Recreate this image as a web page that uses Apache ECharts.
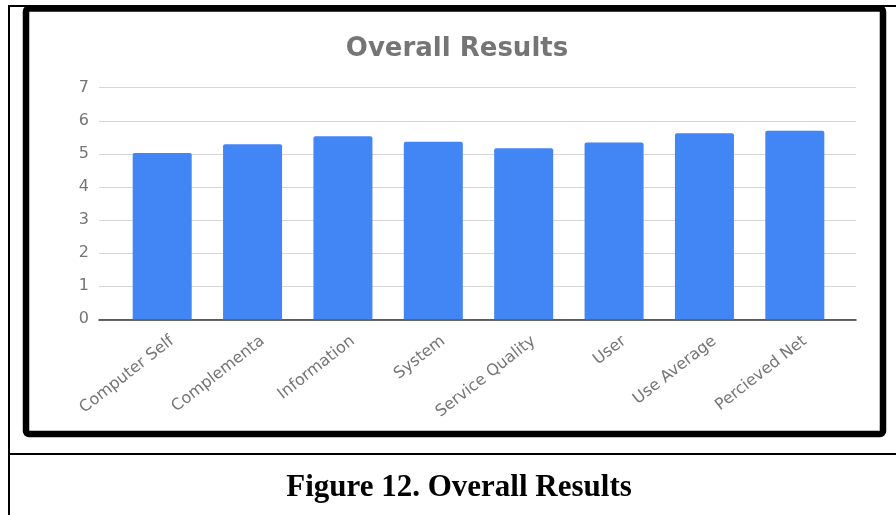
<!DOCTYPE html>
<html>
<head>
<meta charset="utf-8">
<script src="https://cdn.jsdelivr.net/npm/echarts@6/dist/echarts.min.js"></script>
<style>
  html, body { margin: 0; padding: 0; background: #ffffff; }
  #main { width: 896px; height: 515px; }
</style>
</head>
<body>
<div id="main"></div>
<script>
var categories = ['Computer Self', 'Complementa', 'Information', 'System', 'Service Quality', 'User', 'Use Average', 'Percieved Net'];
var scores = [5.03, 5.29, 5.53, 5.37, 5.17, 5.34, 5.62, 5.70];
var yTicks = [0, 7, 1]; // min, max, interval

var chart = echarts.init(document.getElementById('main'), null, { renderer: 'canvas' });

var option = {
  backgroundColor: '#ffffff',
  animation: false,
  title: {
    text: 'Overall Results',
    left: 457,
    top: 36,
    textAlign: 'center',
    padding: 0,
    textStyle: { fontFamily: 'DejaVu Sans', fontWeight: 'bold', fontSize: 26, color: '#757575' }
  },
  grid: [
    // bars
    { left: 117, right: 56, top: 87.7, bottom: 195.7 },
    // grid lines, y labels and baseline (a bit wider than the bars)
    { left: 99, right: 40, top: 87.7, bottom: 195.7 },
    // category labels, sit a little right of the bar centres like the original
    { left: 127, right: 46, top: 87.7, bottom: 195.7 }
  ],
  xAxis: [{
    gridIndex: 0,
    type: 'category',
    data: categories,
    axisLine: { show: false },
    axisTick: { show: false },
    axisLabel: { show: false }
  }, {
    gridIndex: 1,
    type: 'value',
    min: 0,
    max: 1,
    axisLine: { show: true, lineStyle: { color: '#333333', width: 1.5 } },
    axisTick: { show: false },
    axisLabel: { show: false },
    splitLine: { show: false }
  }, {
    gridIndex: 2,
    type: 'category',
    data: categories,
    axisLine: { show: false },
    axisTick: { show: false },
    axisLabel: {
      interval: 0,
      rotate: 38,
      margin: 20,
      color: '#757575',
      fontFamily: 'DejaVu Sans',
      fontSize: 16
    }
  }],
  yAxis: [{
    gridIndex: 0,
    type: 'value',
    min: yTicks[0],
    max: yTicks[1],
    interval: yTicks[2],
    show: false,
    splitLine: { show: false }
  }, {
    gridIndex: 1,
    type: 'value',
    min: yTicks[0],
    max: yTicks[1],
    interval: yTicks[2],
    axisLine: { show: false },
    axisTick: { show: false },
    axisLabel: { color: '#757575', fontFamily: 'DejaVu Sans', fontSize: 16, margin: 10 },
    splitLine: { lineStyle: { color: '#d6d6d6', width: 1.2 } }
  }, {
    gridIndex: 2,
    type: 'value',
    show: false,
    splitLine: { show: false }
  }],
  series: [{
    type: 'bar',
    xAxisIndex: 0,
    yAxisIndex: 0,
    data: scores,
    barWidth: 59,
    itemStyle: { color: '#4285F4', borderRadius: [2, 2, 0, 0] }
  }],
  graphic: [
    // table cell lines
    { type: 'line', shape: { x1: 9, y1: 5, x2: 9, y2: 515 }, style: { stroke: '#000', lineWidth: 2 } },
    { type: 'line', shape: { x1: 8, y1: 6, x2: 896, y2: 6 }, style: { stroke: '#000', lineWidth: 2 } },
    { type: 'line', shape: { x1: 8, y1: 454, x2: 896, y2: 454 }, style: { stroke: '#000', lineWidth: 2 } },
    // thick frame around the chart
    { type: 'rect', shape: { x: 26, y: 8.5, width: 857, height: 425.5, r: 3 }, style: { fill: 'none', stroke: '#000', lineWidth: 6.5 } },
    // caption
    {
      type: 'text',
      x: 459,
      y: 488,
      style: {
        text: 'Figure 12. Overall Results',
        align: 'center',
        verticalAlign: 'middle',
        fontFamily: 'Liberation Serif',
        fontWeight: 'bold',
        fontSize: 31,
        fill: '#000'
      }
    }
  ]
};

chart.setOption(option);
</script>
</body>
</html>
